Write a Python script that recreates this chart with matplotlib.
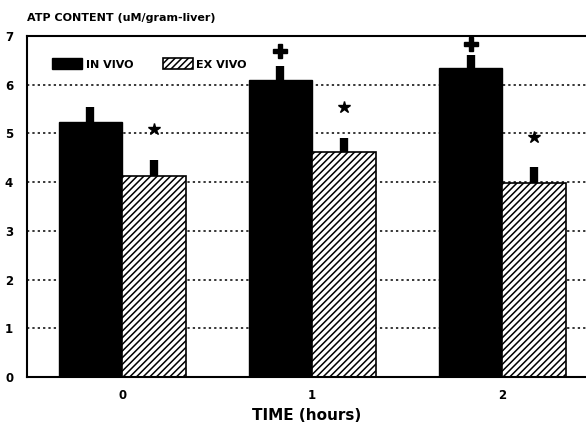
import matplotlib
matplotlib.use("Agg")
import matplotlib.pyplot as plt
import numpy as np

plt.rcParams['hatch.linewidth'] = 1.1
plt.rcParams['font.family'] = ['DejaVu Sans']

# data
times = [0, 1, 2]
time_labels = ['0', '1', '2']
in_vivo = [5.24, 6.10, 6.34]
in_vivo_err = [0.30, 0.29, 0.27]
ex_vivo = [4.13, 4.62, 3.98]
ex_vivo_err = [0.33, 0.29, 0.33]
plus_y = [None, 6.69, 6.84]    # "+" marks over IN VIVO bars
star_y = [5.09, 5.54, 4.93]    # "*" marks over EX VIVO bars

fig = plt.figure(figsize=(5.86, 4.28), dpi=100)
ax = fig.add_axes([0.0461, 0.1192, 0.9539, 0.7967])

x = np.array(times, dtype=float)
w = 0.334

ax.set_axisbelow(True)
ax.yaxis.grid(True, linestyle=(0, (1.5, 2.0)), color='black', linewidth=1.1)

ax.bar(x - w / 2, in_vivo, width=w, color='black', edgecolor='black',
       linewidth=1, label='IN VIVO', zorder=2)
ax.bar(x + w / 2, ex_vivo, width=w, color='white', edgecolor='black',
       hatch='/////', linewidth=1.2, label='EX VIVO', zorder=2)

ax.errorbar(x - w / 2, in_vivo, yerr=[np.zeros(3), in_vivo_err], fmt='none',
            ecolor='black', elinewidth=6, capsize=0, zorder=3)
ax.errorbar(x + w / 2, ex_vivo, yerr=[np.zeros(3), ex_vivo_err], fmt='none',
            ecolor='black', elinewidth=6, capsize=0, zorder=3)

for xi, py in zip(x, plus_y):
    if py is not None:
        ax.plot(xi - w / 2, py, marker='P', color='black', markersize=10, zorder=4)
for xi, sy in zip(x, star_y):
    ax.plot(xi + w / 2, sy, marker='*', color='black', markersize=9, zorder=4)

ax.set_xlim(-0.5, 2.44)
ax.set_ylim(0, 7)
ax.set_yticks(range(0, 8))
ax.set_xticks(x)
ax.set_xticklabels(time_labels)
ax.tick_params(length=0, labelsize=8.5)
ax.tick_params(axis='x', pad=9)
ax.tick_params(axis='y', pad=10)
for lab in ax.get_xticklabels() + ax.get_yticklabels():
    lab.set_fontweight('heavy')

for s in ['left', 'bottom', 'top']:
    ax.spines[s].set_linewidth(1.5)
ax.spines['right'].set_visible(False)

ax.set_xlabel('TIME (hours)', fontsize=11, fontweight='bold', labelpad=4)
fig.text(0.046, 0.958, 'ATP CONTENT (uM/gram-liver)', fontsize=8,
         fontweight='heavy', ha='left', va='center')

leg = ax.legend(loc='center left', bbox_to_anchor=(0.045, 0.918), ncol=2,
                frameon=False, fontsize=8, handlelength=2.7, handleheight=1.1,
                columnspacing=2.7, handletextpad=0.3, borderpad=0,
                borderaxespad=0)
for t in leg.get_texts():
    t.set_fontweight('heavy')

fig.savefig('out.png', dpi=100)
